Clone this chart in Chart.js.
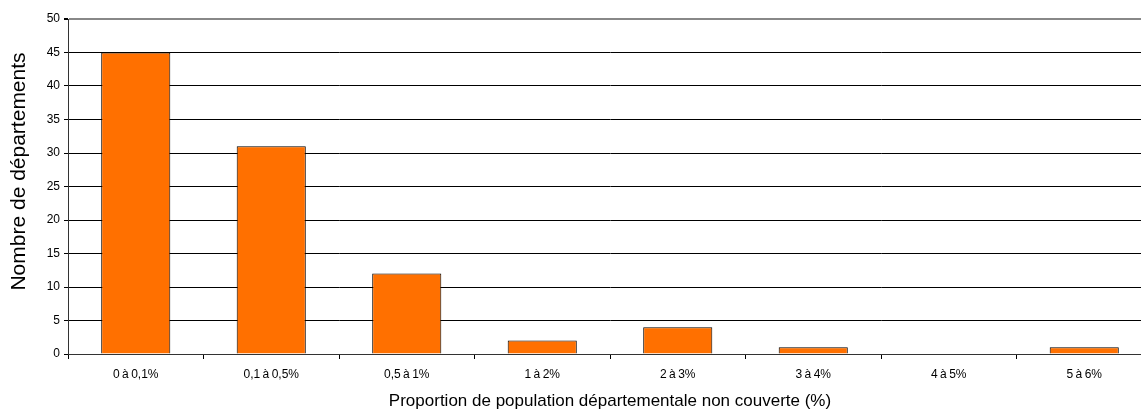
<!DOCTYPE html>
<html>
<head>
<meta charset="utf-8">
<script src="https://cdn.jsdelivr.net/npm/chart.js@4/dist/chart.umd.min.js"></script>
<style>
  html, body { margin: 0; padding: 0; background: #fff; overflow: hidden; }
  #wrap { width: 1141px; height: 414px; overflow: hidden; }
  #c { display: block; }
</style>
</head>
<body>
<div id="wrap"><canvas id="c" width="1152" height="414"></canvas></div>
<script>
// Tranches of uncovered population share and department counts per tranche
const categories = ['0 à 0,1%', '0,1 à 0,5%', '0,5 à 1%', '1 à 2%', '2 à 3%', '3 à 4%', '4 à 5%', '5 à 6%'];
const departements = [45, 31, 12, 2, 4, 1, 0, 1];
const yTicks = [0, 5, 10, 15, 20, 25, 30, 35, 40, 45, 50];
const yTitle = 'Nombre de départements';
const xTitle = 'Proportion de population départementale non couverte (%)';

const FONT = '"Liberation Sans", Arial, sans-serif';

// Vertical axis title, set slightly above the middle of the plot
const yTitlePlugin = {
  id: 'yTitle',
  afterDraw(chart) {
    const { ctx, chartArea } = chart;
    ctx.save();
    ctx.translate(19, (chartArea.top + chartArea.bottom) / 2 - 15);
    ctx.rotate(-Math.PI / 2);
    ctx.font = '21px ' + FONT;
    ctx.fillStyle = '#000';
    ctx.textAlign = 'center';
    ctx.textBaseline = 'middle';
    ctx.fillText(yTitle, 0, 0);
    ctx.restore();
  }
};

new Chart(document.getElementById('c'), {
  type: 'bar',
  data: {
    labels: categories.map(c => c.replace(/ /g, '\u2009')),
    datasets: [{
      data: departements,
      backgroundColor: '#ff7000',
      borderColor: '#000000',
      borderWidth: 1,
      categoryPercentage: 1.0,
      barPercentage: 0.51
    }]
  },
  plugins: [yTitlePlugin],
  options: {
    responsive: false,
    animation: false,
    devicePixelRatio: 1,
    layout: { padding: { top: 19, right: 0, bottom: 0, left: 0 } },
    plugins: { legend: { display: false }, tooltip: { enabled: false } },
    scales: {
      x: {
        grid: {
          display: true,
          drawOnChartArea: false,
          offset: true,
          color: '#000',
          tickLength: 5
        },
        border: { display: true, color: '#333', width: 1 },
        ticks: {
          color: '#000',
          font: { family: FONT, size: 12 },
          padding: 8,
          maxRotation: 0,
          autoSkip: false
        },
        title: {
          display: true,
          text: xTitle,
          color: '#000',
          font: { family: FONT, size: 17 },
          padding: { top: 0, bottom: 2 }
        },
        afterFit: (s) => { s.height = 60; }
      },
      y: {
        min: 0,
        max: 50,
        afterBuildTicks: (s) => { s.ticks = yTicks.map(v => ({ value: v })); },
        grid: {
          color: (ctx) => ctx.tick && ctx.tick.value === 50 ? '#888' : '#000',
          lineWidth: (ctx) => ctx.tick && ctx.tick.value === 50 ? 2 : 1,
          tickLength: 4,
          tickColor: '#000'
        },
        border: { display: true, color: '#333', width: 1 },
        ticks: {
          color: '#000',
          font: { family: FONT, size: 12 },
          padding: 4
        },
        title: { display: false },
        afterFit: (s) => { s.width = 68; }
      }
    }
  }
});
</script>
</body>
</html>
